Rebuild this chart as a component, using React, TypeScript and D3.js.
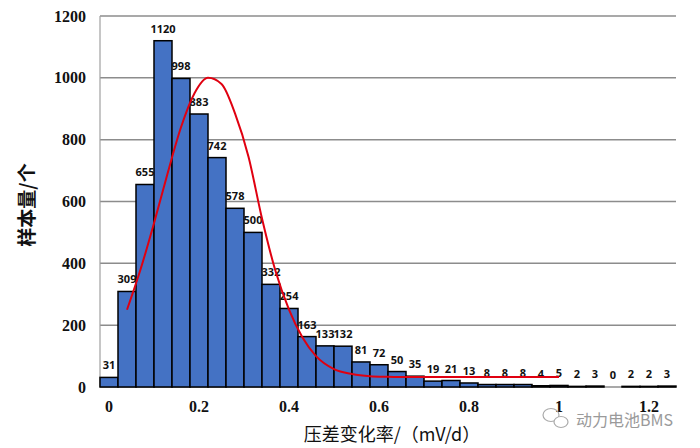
import React from "react";
import * as d3 from "d3";

const binCenters = [0, 0.04, 0.08, 0.12, 0.16, 0.2, 0.24, 0.28, 0.32, 0.36, 0.4, 0.44, 0.48, 0.52, 0.56, 0.6, 0.64, 0.68, 0.72, 0.76, 0.8, 0.84, 0.88, 0.92, 0.96, 1.0, 1.04, 1.08, 1.12, 1.16, 1.2, 1.24];
const counts = [31, 309, 655, 1120, 998, 883, 742, 578, 500, 332, 254, 163, 133, 132, 81, 72, 50, 35, 19, 21, 13, 8, 8, 8, 4, 5, 2, 3, 0, 2, 2, 3];
const xTicks = [0, 0.2, 0.4, 0.6, 0.8, 1, 1.2];
const yTicks = [0, 200, 400, 600, 800, 1000, 1200];
const fitX = [0.04, 0.07, 0.1, 0.13, 0.16, 0.19, 0.22, 0.25, 0.28, 0.31, 0.34, 0.37, 0.4, 0.43, 0.46, 0.5, 0.54, 0.58, 0.62, 0.66, 0.7, 1.0];
const fitY = [250, 380, 530, 690, 840, 950, 1000, 980, 885, 745, 545, 375, 250, 160, 100, 58, 42, 35, 33, 32, 32, 32];

export default function App() {
  const W = 700, H = 448;
  const x = d3.scaleLinear().domain([-0.02, 1.26]).range([100, 676]);
  const y = d3.scaleLinear().domain([0, 1200]).range([387, 16]);
  const bw = x(0.04) - x(0);
  const line = d3.line<number>().x((_, i) => x(fitX[i])).y((d) => y(d)).curve(d3.curveMonotoneX);

  return (
    <div style={{ position: "fixed", left: 0, top: 0 }}>
      <svg width={W} height={H} style={{ display: "block", background: "#fff" }}>
        {yTicks.map((t) => (
          <line key={"g" + t} x1={100} x2={676} y1={y(t)} y2={y(t)} stroke="#8c8c8c" strokeWidth={1.5} />
        ))}
        <line x1={100} x2={100} y1={y(1200)} y2={y(0)} stroke="#a0a0a0" strokeWidth={1.2} />
        {yTicks.map((t) => (
          <text key={"yt" + t} x={86} y={y(t)} dy="0.35em" textAnchor="end" fontFamily="Liberation Serif" fontWeight="bold" fontSize={16} fill="#111">{t}</text>
        ))}
        {counts.map((c, i) => (
          <rect key={"b" + i} x={x(binCenters[i]) - bw / 2} y={y(c)} width={bw} height={y(0) - y(c)} fill="#4472C4" stroke="#000" strokeWidth={1.5} />
        ))}
        {counts.map((c, i) => (
          <text key={"l" + i} x={x(binCenters[i])} y={y(c) - 8} textAnchor="middle" fontFamily="Open Sans, Liberation Sans" fontWeight="bold" fontSize={11} fill="#111">{c}</text>
        ))}
        <path d={line(fitY) || ""} fill="none" stroke="#e00010" strokeWidth={2} />
        {xTicks.map((t) => (
          <text key={"xt" + t} x={x(t)} y={412} textAnchor="middle" fontFamily="Liberation Serif" fontWeight="bold" fontSize={16} fill="#111">{t}</text>
        ))}
        <text x={392} y={441} textAnchor="middle" fontFamily="Noto Sans CJK SC" fontSize={18} fill="#111">压差变化率/（mV/d）</text>
        <text transform="translate(34,205) rotate(-90)" textAnchor="middle" fontFamily="Noto Sans CJK SC" fontWeight="bold" fontSize={19} fill="#111">样本量/个</text>
        <g stroke="#aaa" strokeWidth={1.2} fill="none">
          <ellipse cx={551} cy={415} rx={8} ry={6.5} />
          <ellipse cx={561} cy={422} rx={7} ry={5.5} fill="#fff" />
        </g>
        <text x={576} y={426} fontFamily="Noto Sans CJK SC" fontSize={16} fill="#9a9a9a">动力电池BMS</text>
      </svg>
    </div>
  );
}
